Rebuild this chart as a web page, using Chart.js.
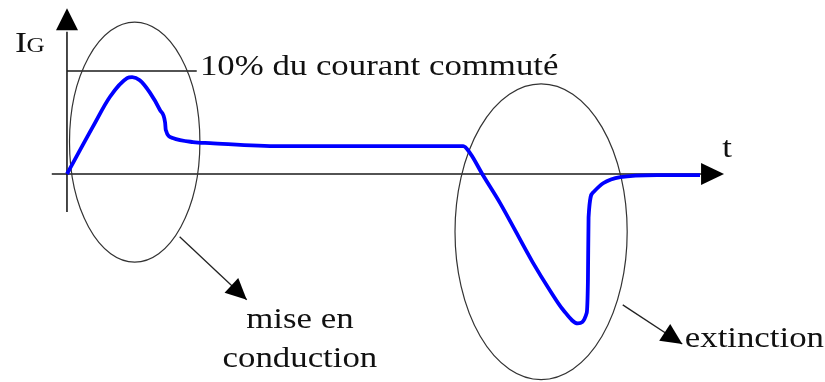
<!DOCTYPE html>
<html>
<head>
<meta charset="utf-8">
<script src="https://cdn.jsdelivr.net/npm/chart.js@4.4.1/dist/chart.umd.min.js"></script>
<style>
  html, body { margin: 0; padding: 0; background: #fff; }
  #wrap { width: 825px; height: 382px; }
</style>
</head>
<body>
<div id="wrap"><canvas id="igChart" width="825" height="382"></canvas></div>
<script>
// time axis (arbitrary units) and gate current I_G (10 = "10% du courant commuté")
var tValues = [0, 4.1, 6.8, 9.5, 10.3, 11.5, 13.1, 14.7, 15.5, 15.6, 16.7, 19.9, 22.6, 33.6,
               62.6, 63.7, 65.7, 68.4, 73.6, 76.3, 78.4, 80.7, 82.1, 82.3, 82.4, 83.1, 84.7, 87.4, 93.2, 100];
var igValues = [0, 4.6, 7.5, 9.3, 9.4, 9.1, 7.9, 6.2, 5.0, 4.3, 3.5, 3.1, 3.0, 2.7,
                2.7, 2.0, -0.1, -2.8, -8.6, -11.3, -13.2, -14.5, -13.5, -10.3, -4.2, -1.8, -0.9, -0.3, -0.1, -0.1];
var refLevel = 10;          // 10% line
var refLabel = '10% du courant commuté';
var zoneLabels = [['mise en', 'conduction'], ['extinction']];

document.addEventListener('DOMContentLoaded', function () {
    var ctx = document.getElementById('igChart').getContext('2d');

    var points = tValues.map(function (t, i) { return { x: t, y: igValues[i] }; });

    // draw text stretched a little horizontally, like the original figure
    function stretchText(c, txt, x, y, size, align) {
        c.save();
        c.font = size + 'px "Liberation Serif", "Times New Roman", serif';
        c.textAlign = align || 'left';
        c.textBaseline = 'alphabetic';
        c.fillStyle = '#111';
        c.translate(x, y);
        c.scale(1.2, 1);
        c.fillText(txt, 0, 0);
        c.restore();
    }

    function arrowHead(c, x1, y1, x2, y2, len, half) {
        var a = Math.atan2(y2 - y1, x2 - x1);
        c.beginPath();
        c.moveTo(x2, y2);
        c.lineTo(x2 - len * Math.cos(a) + half * Math.sin(a), y2 - len * Math.sin(a) - half * Math.cos(a));
        c.lineTo(x2 - len * Math.cos(a) - half * Math.sin(a), y2 - len * Math.sin(a) + half * Math.cos(a));
        c.closePath();
        c.fill();
    }

    var sketchPlugin = {
        id: 'sketch',
        beforeDatasetsDraw: function (chart) {
            var c = chart.ctx, xs = chart.scales.x, ys = chart.scales.y;
            var X = function (v) { return xs.getPixelForValue(v); };
            var Y = function (v) { return ys.getPixelForValue(v); };
            c.save();
            c.strokeStyle = '#1a1a1a';
            c.fillStyle = '#000';
            c.lineWidth = 1.6;
            // time axis
            c.beginPath();
            c.moveTo(X(-2.4), Y(0));
            c.lineTo(X(100.5), Y(0));
            c.stroke();
            arrowHead(c, X(90), Y(0), X(103.8), Y(0), 23, 11);
            // I_G axis
            c.beginPath();
            c.moveTo(X(0), Y(-3.7));
            c.lineTo(X(0), Y(13.8));
            c.stroke();
            arrowHead(c, X(0), Y(5), X(0), Y(16.1), 22, 11);
            // 10% line
            c.beginPath();
            c.moveTo(X(0), Y(refLevel));
            c.lineTo(X(20.5), Y(refLevel));
            c.stroke();
            // ellipses
            c.strokeStyle = '#333';
            c.lineWidth = 1.2;
            c.beginPath();
            c.ellipse(X(10.7), Y(3.1), X(10.7) - X(0.4), Y(-8.55) - Y(3.1), 0, 0, Math.PI * 2);
            c.stroke();
            c.beginPath();
            c.ellipse(X(74.9), Y(-5.6), X(74.9) - X(61.3), Y(-19.95) - Y(-5.6), 0, 0, Math.PI * 2);
            c.stroke();
            c.restore();
        },
        afterDatasetsDraw: function (chart) {
            var c = chart.ctx, xs = chart.scales.x, ys = chart.scales.y;
            var X = function (v) { return xs.getPixelForValue(v); };
            var Y = function (v) { return ys.getPixelForValue(v); };
            c.save();
            c.strokeStyle = '#222';
            c.fillStyle = '#000';
            c.lineWidth = 1.3;
            // pointer arrows
            var arrows = [[17.8, -6.1, 28.4, -12.2], [87.8, -12.7, 97.2, -16.5]];
            arrows.forEach(function (a) {
                c.beginPath();
                c.moveTo(X(a[0]), Y(a[1]));
                c.lineTo(X(a[2]), Y(a[3]));
                c.stroke();
                arrowHead(c, X(a[0]), Y(a[1]), X(a[2]), Y(a[3]), 21, 10);
            });
            // labels
            stretchText(c, refLabel, X(21.0), Y(9.6), 29, 'left');
            stretchText(c, 'I', X(-8.2), Y(11.8), 30, 'left');
            stretchText(c, 'G', X(-6.4), Y(11.8), 21, 'left');
            stretchText(c, 't', X(103.5), Y(1.65), 29, 'left');
            stretchText(c, zoneLabels[0][0], X(36.8), Y(-14.95), 29, 'center');
            stretchText(c, zoneLabels[0][1], X(36.8), Y(-18.7), 29, 'center');
            stretchText(c, zoneLabels[1][0], X(97.6), Y(-16.8), 29, 'left');
            c.restore();
        }
    };

    new Chart(ctx, {
        type: 'line',
        data: {
            datasets: [{
                label: 'I_G',
                data: points,
                borderColor: '#0000ff',
                borderWidth: 3.8,
                pointRadius: 0,
                cubicInterpolationMode: 'monotone',
                fill: false
            }]
        },
        options: {
            responsive: false,
            animation: false,
            devicePixelRatio: 1,
            layout: { padding: 0 },
            plugins: { legend: { display: false }, tooltip: { enabled: false } },
            scales: {
                x: { type: 'linear', display: false, min: -10.58, max: 119.75 },
                y: { type: 'linear', display: false, min: -20.19, max: 16.89 }
            }
        },
        plugins: [sketchPlugin]
    });
});
</script>
</body>
</html>
